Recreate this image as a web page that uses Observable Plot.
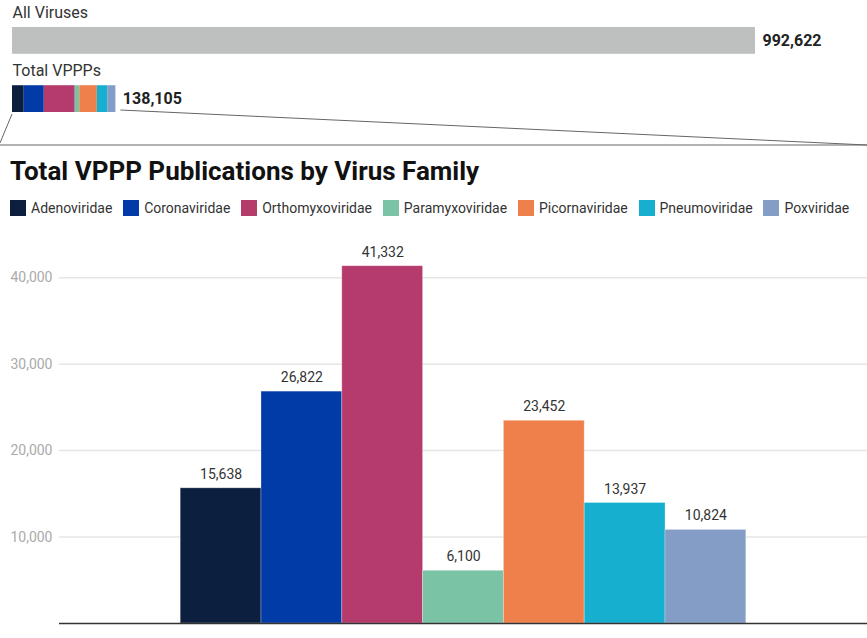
<!DOCTYPE html>
<html>
<head>
<meta charset="utf-8">
<script src="https://cdn.jsdelivr.net/npm/d3@7"></script>
<script src="https://cdn.jsdelivr.net/npm/@observablehq/plot@0.6"></script>
<style>
  html, body { margin: 0; padding: 0; background: #fff; }
  body { position: relative; width: 867px; height: 638px; overflow: hidden; font-family: Roboto, "Open Sans", sans-serif; }
  #top { position: absolute; left: 0; top: 0; height: 150px; }
  #title { position: absolute; left: 10px; top: 155px; margin: 0; font-size: 26px; font-weight: 700; color: #111; line-height: 32px; white-space: nowrap; }
  #legend { position: absolute; left: 10px; top: 198px; display: flex; align-items: center; height: 20px; font-size: 14px; color: #333; white-space: nowrap; }
  .sw { display: inline-block; width: 16px; height: 16px; margin-right: 5px; }
  .item { display: flex; align-items: center; margin-right: 10.8px; }
  #bars { position: absolute; left: 0; top: 225px; height: 413px; }
</style>
</head>
<body>
<div id="top"></div>
<div id="title">Total VPPP Publications by Virus Family</div>
<div id="legend"></div>
<div id="bars"></div>
<script>
// Publications per virus family
const families = ["Adenoviridae", "Coronaviridae", "Orthomyxoviridae", "Paramyxoviridae", "Picornaviridae", "Pneumoviridae", "Poxviridae"];
const publications = [15638, 26822, 41332, 6100, 23452, 13937, 10824];
const familyColors = ["#0c1f3f", "#003ba7", "#b53b6d", "#7bc3a5", "#f0804b", "#16afd0", "#839dc6"];

// Overview totals
const overviewRows = ["All Viruses", "Total VPPPs"];
const allViruses = 992622;
const totalVPPPs = 138105;

const yTicks = [10000, 20000, 30000, 40000];

const familyData = families.map((f, i) => ({family: f, value: publications[i]}));
const totals = [{row: "All Viruses", value: allViruses}, {row: "Total VPPPs", value: totalVPPPs}];
const colorScale = {domain: families, range: familyColors};
const fmt = d3.format(",");

// ---- Overview: all viruses vs. the VPPP stack ----
const overview = Plot.plot({
  width: 867,
  height: 150,
  marginLeft: 12,
  marginRight: 112,
  marginTop: 0,
  marginBottom: 0,
  style: {fontFamily: "Roboto, sans-serif", background: "white"},
  x: {domain: [0, allViruses], axis: null},
  y: {domain: overviewRows, range: [27, 112], paddingInner: 0.54, paddingOuter: 0, round: false, axis: null},
  color: colorScale,
  marks: [
    Plot.barX([totals[0]], {x: "value", y: "row", fill: "#bebfbf"}),
    Plot.barX(familyData, Plot.stackX({x: "value", y: () => "Total VPPPs", fill: "family", order: families})),
    Plot.text(overviewRows, {x: 0, y: d => d, text: d => d, textAnchor: "start", dy: -28, fontSize: 16, fill: "#333"}),
    Plot.text(totals, {x: "value", y: "row", text: d => fmt(d.value), textAnchor: "start", dx: 7, fontSize: 16, fontWeight: 700, fill: "#222"})
  ]
});

// Zoom connector from the VPPP stack down to the detail chart
{
  const sx = overview.scale("x");
  const sy = overview.scale("y");
  const yBot = sy.apply("Total VPPPs") + sy.bandwidth;
  const base = 145;
  const g = d3.select(overview).append("g").attr("stroke", "#666").attr("stroke-width", 1).attr("fill", "none");
  g.append("line").attr("x1", sx.apply(0)).attr("y1", yBot + 2).attr("x2", 0).attr("y2", base - 2);
  g.append("line").attr("x1", sx.apply(totalVPPPs) + 5).attr("y1", yBot - 2).attr("x2", 867).attr("y2", base);
  g.append("line").attr("x1", 0).attr("y1", base).attr("x2", 867).attr("y2", base);
}
document.getElementById("top").append(overview);

// ---- Legend ----
const legend = d3.select("#legend");
families.forEach((f, i) => {
  const item = legend.append("span").attr("class", "item");
  item.append("span").attr("class", "sw").style("background", familyColors[i]);
  item.append("span").text(f);
});

// ---- Bar chart by family ----
const bars = Plot.plot({
  width: 867,
  height: 413,
  marginLeft: 59,
  marginRight: 0,
  marginTop: 9,
  marginBottom: 15,
  style: {fontFamily: "Roboto, sans-serif", background: "white"},
  x: {domain: families, paddingInner: 0, paddingOuter: 1.5, round: false, axis: null},
  y: {domain: [0, 45000]},
  color: colorScale,
  marks: [
    Plot.gridY(yTicks, {stroke: "#e6e6e6", strokeOpacity: 1, strokeWidth: 1.5}),
    Plot.axisY(yTicks, {tickSize: 0, tickPadding: 7, tickFormat: fmt, fontSize: 14, color: "#aaaaaa", label: null}),
    Plot.barY(familyData, {x: "family", y: "value", fill: "family", stroke: "white", strokeOpacity: 0.35, strokeWidth: 0.8}),
    Plot.text(familyData, {x: "family", y: "value", text: d => fmt(d.value), dy: -14, fontSize: 14, fill: "#333"}),
    Plot.ruleY([0], {stroke: "#333", strokeWidth: 1.5})
  ]
});
document.getElementById("bars").append(bars);
</script>
</body>
</html>
